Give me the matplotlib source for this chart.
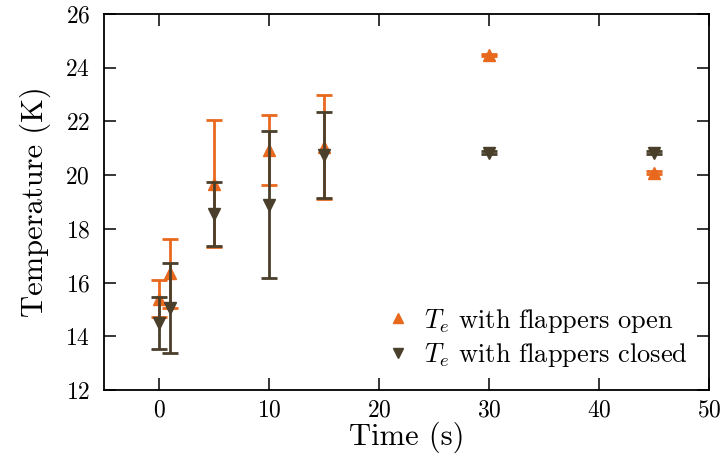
import matplotlib
matplotlib.use("Agg")
import matplotlib.pyplot as plt
from matplotlib.lines import Line2D

plt.rcParams['font.family'] = ['cmr10', 'DejaVu Serif']
plt.rcParams['mathtext.fontset'] = 'cm'
plt.rcParams['axes.formatter.use_mathtext'] = True

time_s = [0, 1, 5, 10, 15, 30, 45]
open_T = [15.40, 16.34, 19.68, 20.93, 21.05, 24.47, 20.09]
open_err = [0.69, 1.30, 2.37, 1.30, 1.94, 0.05, 0.05]
closed_T = [14.49, 15.06, 18.55, 18.90, 20.75, 20.84, 20.84]
closed_err = [0.96, 1.68, 1.18, 2.74, 1.59, 0.05, 0.05]

c_open = '#e8681e'
c_closed = '#4a3f2b'

dpi = 100
fig = plt.figure(figsize=(7.24, 4.61), dpi=dpi)
ax = fig.add_axes([104/724, 1-390/461, (709-104)/724, (390-14)/461])

ax.errorbar(time_s, open_T, yerr=open_err, fmt='^', color=c_open, ms=8,
            elinewidth=2, capsize=6, capthick=2, zorder=2)
ax.errorbar(time_s, closed_T, yerr=closed_err, fmt='v', color=c_closed, ms=8,
            elinewidth=2, capsize=6, capthick=2, zorder=3)

ax.set_xlim(-5, 50)
ax.set_ylim(12, 26)
ax.set_xticks([0, 10, 20, 30, 40, 50])
ax.set_yticks([12, 14, 16, 18, 20, 22, 24, 26])
ax.tick_params(direction='in', length=8.5, width=1.1, top=True, right=True,
               labelsize=17)
ax.tick_params(axis='y', pad=10)
ax.tick_params(axis='x', pad=7)
for s in ax.spines.values():
    s.set_linewidth(1.3)
ax.set_xlabel('Time (s)', fontsize=22, labelpad=0)
ax.set_ylabel('Temperature (K)', fontsize=22, labelpad=10)

handles = [Line2D([], [], ls='none', marker='^', color=c_open, ms=7),
           Line2D([], [], ls='none', marker='v', color=c_closed, ms=7)]
ax.legend(handles, [r'$T_e$ with flappers open', r'$T_e$ with flappers closed'],
          loc='lower right', frameon=False, fontsize=19, handletextpad=0.5,
          borderaxespad=0.5, handlelength=1.0, labelspacing=0.25,
          bbox_to_anchor=(1.005, -0.008))

fig.savefig('out.png', dpi=dpi)
